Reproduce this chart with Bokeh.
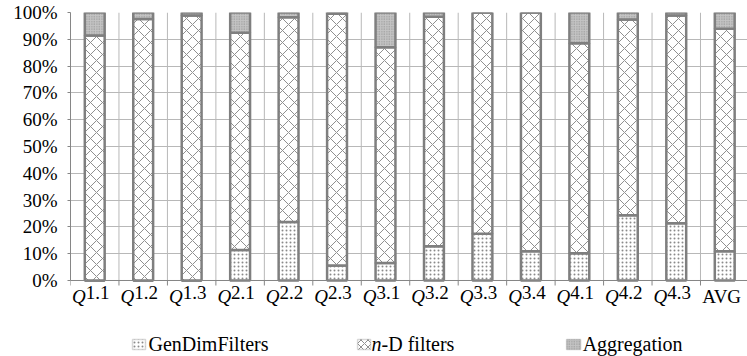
from bokeh.plotting import figure
from bokeh.models import Range1d, FixedTicker, Label, BoxAnnotation, ColumnDataSource, Span
from bokeh.embed import file_html
from bokeh.resources import INLINE

# ---- data ----
categories = ["Q1.1", "Q1.2", "Q1.3", "Q2.1", "Q2.2", "Q2.3", "Q3.1", "Q3.2",
              "Q3.3", "Q3.4", "Q4.1", "Q4.2", "Q4.3", "AVG"]
cat_prefix = ["Q"] * 13 + [""]
cat_suffix = ["1.1", "1.2", "1.3", "2.1", "2.2", "2.3", "3.1", "3.2",
              "3.3", "3.4", "4.1", "4.2", "4.3", "AVG"]
gen_dim_filters = [0.0, 0.0, 0.0, 11.4, 21.8, 5.6, 6.5, 12.8, 17.4, 10.9, 10.2, 24.3, 21.4, 10.9]
nd_filters = [91.4, 97.6, 98.9, 81.0, 76.4, 93.9, 80.5, 85.6, 82.6, 89.1, 78.3, 73.1, 77.5, 83.0]
aggregation = [8.6, 2.4, 1.1, 7.6, 1.8, 0.5, 13.0, 1.6, 0.0, 0.0, 11.5, 2.6, 1.1, 6.1]
y_ticks = [0, 10, 20, 30, 40, 50, 60, 70, 80, 90, 100]
y_tick_labels = ["0%", "10%", "20%", "30%", "40%", "50%", "60%", "70%", "80%", "90%", "100%"]
series_names = ["GenDimFilters", "n-D filters", "Aggregation"]

n = len(categories)
xs = [i + 0.5 for i in range(n)]
b0 = [0.0] * n
t1 = [g for g in gen_dim_filters]
t2 = [g + d for g, d in zip(gen_dim_filters, nd_filters)]
t3 = [a + b for a, b in zip(t2, aggregation)]
bounds = list(range(n + 1))

src = ColumnDataSource(dict(x=xs, b0=b0, t1=t1, t2=t2, t3=t3, cat=categories))

FONT = "Liberation Serif"
TXT = "#000000"
EDGE = "#7f7f7f"
AXIS = "#868686"
GRID = "#b8b8b8"

p = figure(width=747, height=356, output_backend="svg", toolbar_location=None,
           x_range=Range1d(0, 13.97), y_range=Range1d(-28.36, 100),
           min_border_left=70, min_border_right=0, min_border_top=12, min_border_bottom=0)
p.outline_line_color = None
p.background_fill_color = "white"
p.xaxis.visible = False
p.xgrid.visible = False

# vertical category separators and tick stubs
p.segment(x0=bounds, y0=[0] * len(bounds), x1=bounds, y1=[100] * len(bounds),
          line_color=GRID, line_width=1)
p.segment(x0=bounds, y0=[-1.87] * len(bounds), x1=bounds, y1=[0] * len(bounds),
          line_color=AXIS, line_width=1)

bw = 0.41
p.vbar(x="x", bottom="b0", top="t1", width=bw, source=src,
       fill_color="white", line_color=EDGE, line_width=2.5,
       hatch_pattern="dot", hatch_color="#8a8a8a", hatch_scale=4, hatch_weight=1)
p.vbar(x="x", bottom="t1", top="t2", width=bw, source=src,
       fill_color="white", line_color=EDGE, line_width=2.5,
       hatch_pattern="diagonal_cross", hatch_color="#8f8f8f", hatch_scale=12, hatch_weight=1)
p.vbar(x="x", bottom="t2", top="t3", width=bw, source=src,
       fill_color="#c4c4c4", line_color=EDGE, line_width=2.5,
       hatch_pattern="dot", hatch_color="#8c8c8c", hatch_scale=2.5, hatch_weight=1)

p.add_layout(Span(location=0, dimension="width", line_color=AXIS, line_width=1))

# y axis
p.yaxis.bounds = (0, 100)
p.yaxis.ticker = FixedTicker(ticks=y_ticks)
p.yaxis.major_label_overrides = {t: l for t, l in zip(y_ticks, y_tick_labels)}
p.yaxis.major_label_text_font = FONT
p.yaxis.major_label_text_font_size = "19px"
p.yaxis.major_label_text_color = TXT
p.yaxis.axis_line_color = AXIS
p.yaxis.major_tick_line_color = AXIS
p.yaxis.major_tick_out = 3
p.yaxis.major_tick_in = 0
p.yaxis.minor_tick_line_color = None
p.yaxis.major_label_standoff = 10

p.ygrid.ticker = FixedTicker(ticks=y_ticks)
p.ygrid.grid_line_color = GRID

# category labels (italic Q + upright number)
for xi, pre, suf in zip(xs, cat_prefix, cat_suffix):
    if pre:
        p.add_layout(Label(x=xi, y=-1.9, text=pre, x_offset=-9, text_align="right",
                           text_baseline="top", text_font=FONT, text_font_style="italic",
                           text_font_size="19px", text_color=TXT))
        p.add_layout(Label(x=xi, y=-1.9, text=suf, x_offset=-9, text_align="left",
                           text_baseline="top", text_font=FONT,
                           text_font_size="19px", text_color=TXT))
    else:
        p.add_layout(Label(x=xi, y=-1.9, text=suf, x_offset=-3, text_align="center",
                           text_baseline="top", text_font=FONT,
                           text_font_size="19px", text_color=TXT))

# manual legend
icon_specs = [
    dict(left=1.280, right=1.548, fill_color="white", hatch_pattern="dot", hatch_color="#8a8a8a", hatch_scale=4),
    dict(left=5.924, right=6.192, fill_color="white", hatch_pattern="diagonal_cross", hatch_color="#8f8f8f", hatch_scale=7),
    dict(left=10.237, right=10.526, fill_color="#c4c4c4", hatch_pattern="dot", hatch_color="#8c8c8c", hatch_scale=2.5),
]
for spec in icon_specs:
    p.add_layout(BoxAnnotation(top=-22.0, bottom=-25.75, line_color=EDGE, line_width=1.5,
                               fill_alpha=1, level="overlay", **spec))

LY = -23.7
p.add_layout(Label(x=1.610, y=LY, text=series_names[0], text_align="left", text_baseline="middle",
                   text_font=FONT, text_font_size="20px", text_color=TXT))
p.add_layout(Label(x=6.213, y=LY, text="n", text_align="left", text_baseline="middle",
                   text_font=FONT, text_font_style="italic", text_font_size="20px", text_color=TXT))
p.add_layout(Label(x=6.213, y=LY, x_offset=10, text="-D filters", text_align="left", text_baseline="middle",
                   text_font=FONT, text_font_size="20px", text_color=TXT))
p.add_layout(Label(x=10.568, y=LY, text=series_names[2], text_align="left", text_baseline="middle",
                   text_font=FONT, text_font_size="20px", text_color=TXT))

open("out.html", "w").write(file_html(p, INLINE))
